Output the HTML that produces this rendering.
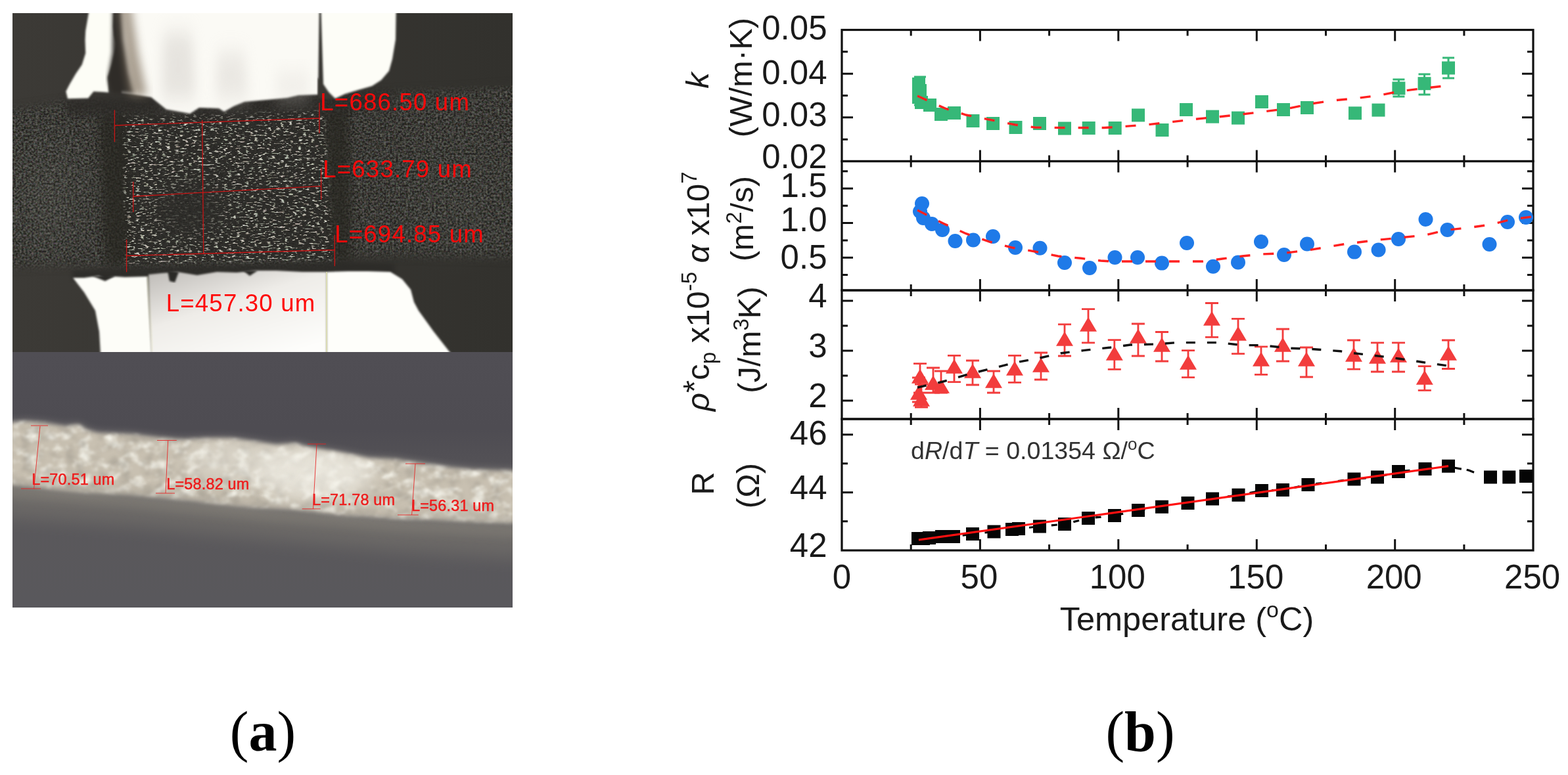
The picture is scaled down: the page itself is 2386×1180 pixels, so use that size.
<!DOCTYPE html>
<html><head><meta charset="utf-8"><title>Figure</title>
<style>
html,body{margin:0;padding:0;background:#fff;}
body{width:2386px;height:1180px;overflow:hidden;position:relative;}
svg{position:absolute;left:0;top:0;display:block;}
</style></head><body>
<svg width="2386" height="1180" viewBox="0 0 2386 1180">
<rect width="2386" height="1180" fill="#fff"/>
<defs>
<clipPath id="cTop"><rect x="19" y="20" width="761" height="516"/></clipPath>
<clipPath id="cBot"><rect x="19" y="536" width="761" height="389"/></clipPath>
<filter id="soft1" color-interpolation-filters="sRGB" x="-5%" y="-5%" width="110%" height="110%"><feGaussianBlur stdDeviation="1.4"/></filter>
<filter id="soft3" color-interpolation-filters="sRGB" x="-10%" y="-10%" width="120%" height="120%"><feGaussianBlur stdDeviation="3"/></filter>
<filter id="soft6" color-interpolation-filters="sRGB" x="-20%" y="-20%" width="140%" height="140%"><feGaussianBlur stdDeviation="7"/></filter>
<filter id="softV" color-interpolation-filters="sRGB" x="-50%" y="-50%" width="200%" height="200%"><feGaussianBlur stdDeviation="9 16"/></filter>
<filter id="soft12" color-interpolation-filters="sRGB" x="-20%" y="-40%" width="140%" height="180%"><feGaussianBlur stdDeviation="14"/></filter>
<filter id="spkA" color-interpolation-filters="sRGB" x="0" y="0" width="1" height="1">
  <feTurbulence type="fractalNoise" baseFrequency="0.15 0.4" numOctaves="2" seed="7"/>
  <feColorMatrix type="matrix" values="1.1 0.15 0 0 0.1  1.1 0 0.15 0 0.1  1.1 0 0 0 0.12  0 0 0 10 -5.75"/>
  <feGaussianBlur stdDeviation="0.7 0.4"/>
</filter>
<filter id="grain" color-interpolation-filters="sRGB" x="0" y="0" width="1" height="1">
  <feTurbulence type="fractalNoise" baseFrequency="0.33" numOctaves="2" seed="11"/>
  <feColorMatrix type="matrix" values="1.1 0.25 0 0 -0.42  1.1 0 0.25 0 -0.42  1.1 0 0 0.25 -0.44  0 0 0 0 1"/>
  <feGaussianBlur stdDeviation="0.7"/>
</filter>
<filter id="spkC" color-interpolation-filters="sRGB" x="0" y="0" width="1" height="1">
  <feTurbulence type="fractalNoise" baseFrequency="0.25" numOctaves="2" seed="23"/>
  <feColorMatrix type="matrix" values="0 0 0 0 0.62  0 0 0 0 0.64  0 0 0 0 0.62  12 0 0 0 -8.0"/>
  <feGaussianBlur stdDeviation="0.8"/>
</filter>
<radialGradient id="glowL" cx="0.5" cy="0.5" r="0.5"><stop offset="0" stop-color="#55554f" stop-opacity="0.9"/><stop offset="1" stop-color="#55554f" stop-opacity="0"/></radialGradient>
<filter id="blot" color-interpolation-filters="sRGB" x="0" y="0" width="1" height="1">
  <feTurbulence type="fractalNoise" baseFrequency="0.05 0.07" numOctaves="3" seed="4"/>
  <feColorMatrix type="matrix" values="0 0 0 0 1  0 0 0 0 1  0 0 0 0 0.97  3.0 0 0 0 -1.4"/>
  <feGaussianBlur stdDeviation="1.5"/>
</filter>
<filter id="blotD" color-interpolation-filters="sRGB" x="0" y="0" width="1" height="1">
  <feTurbulence type="fractalNoise" baseFrequency="0.06 0.08" numOctaves="2" seed="9"/>
  <feColorMatrix type="matrix" values="0 0 0 0 0.58  0 0 0 0 0.56  0 0 0 0 0.52  3.2 0 0 0 -1.5"/>
  <feGaussianBlur stdDeviation="2"/>
</filter>
<linearGradient id="gapG" x1="0" y1="0" x2="1" y2="0">
  <stop offset="0" stop-color="#2e2b27"/><stop offset="0.35" stop-color="#4a4036"/><stop offset="0.7" stop-color="#c8bfae"/><stop offset="1" stop-color="#fbfaf4"/>
</linearGradient>
<linearGradient id="w5G" x1="0" y1="0" x2="0.6" y2="1">
  <stop offset="0" stop-color="#bdbab6"/><stop offset="0.45" stop-color="#eeece8"/><stop offset="1" stop-color="#fdfdfb"/>
</linearGradient>
<linearGradient id="botBg" x1="0" y1="0" x2="0" y2="1">
  <stop offset="0" stop-color="#55535a"/><stop offset="0.25" stop-color="#59575c"/><stop offset="0.55" stop-color="#6a6867"/><stop offset="0.75" stop-color="#605f62"/><stop offset="1" stop-color="#545358"/>
</linearGradient>
</defs>
<g clip-path="url(#cTop)"><defs><linearGradient id="topBg" x1="0" y1="0" x2="1" y2="0"><stop offset="0" stop-color="#3c3a36"/><stop offset="1" stop-color="#32312d"/></linearGradient></defs><rect x="19" y="20" width="761" height="516" fill="url(#topBg)"/><path d="M0 169 L19 168 L60 162 L100 156 L190 160 L300 160 L480 148 L600 142 L700 138 L780 132 L800 131 L800 392 L700 390 L600 388 L530 390 L500 402 L300 406 L200 406 L150 404 L100 403 L60 404 L19 405 L0 405 Z" fill="#363531" filter="url(#soft6)"/><ellipse cx="75" cy="300" rx="80" ry="120" fill="url(#glowL)" opacity="0.6"/><ellipse cx="700" cy="300" rx="110" ry="120" fill="url(#glowL)" opacity="0.2"/><mask id="bandM" maskUnits="userSpaceOnUse" x="0" y="0" width="800" height="560"><path d="M0 169 L19 168 L60 162 L100 156 L190 160 L300 160 L480 148 L600 142 L700 138 L780 132 L800 131 L800 392 L700 390 L600 388 L530 390 L500 402 L300 406 L200 406 L150 404 L100 403 L60 404 L19 405 L0 405 Z" fill="#fff" filter="url(#soft6)"/></mask><mask id="ctrM" maskUnits="userSpaceOnUse" x="0" y="0" width="800" height="560"><path d="M186 176 L492 166 L506 396 L192 402 Z" fill="#fff" filter="url(#soft3)"/><ellipse cx="290" cy="318" rx="55" ry="42" fill="#000" filter="url(#soft12)" opacity="0.8"/></mask><g mask="url(#bandM)"><rect x="19" y="130" width="761" height="320" filter="url(#grain)" opacity="0.42"/><rect x="19" y="130" width="761" height="320" filter="url(#spkC)" opacity="0.4"/></g><path d="M180 176 L492 166 L508 394 L190 402 Z" fill="#2a2926" filter="url(#soft3)" opacity="0.8"/><path d="M150 175 L190 172 L198 400 L160 405 Z M492 165 L530 160 L535 395 L505 398 Z" fill="#26251f" filter="url(#soft6)" opacity="0.7"/><g mask="url(#ctrM)"><rect x="186" y="166" width="322" height="236" filter="url(#spkA)" opacity="0.85"/></g><path d="M100 150 L480 140 L600 140 L600 165 L480 172 L300 180 L100 175 Z" fill="#2c2a27" filter="url(#soft6)" opacity="0.8"/><path d="M110 412 L300 404 L500 398 L600 402 L600 418 L500 418 L300 422 L110 428 Z" fill="#2a2926" filter="url(#soft3)" opacity="0.7"/><path d="M138.3 0 L173.6 0 L172.2 40 L173.6 54 L177.6 67.5 L170.8 97.3 L164 117.6 L165.4 140.7 L156 140 L142.4 139.3 L134.2 149.5 L103 150.2 L100.3 139.3 L105.8 128.5 L115.3 112.2 L124.7 98.6 L130.2 81 L129.5 60.7 L130.2 47 Z" fill="#fdfdf6" filter="url(#soft1)"/><path d="M176 0 L486 0 L484 144 L454 145 L437 149 L406 152 L372 155 L356 161.6 L341 170 L333 165 L303 164 L289 173 L253 166.6 L230 148 L200 143 L185 141 Z" fill="#fbfaf5" filter="url(#soft1)"/><path d="M172 0 L184 0 L188 60 L196 110 L204 142 L170 142 L164 120 L171 80 Z" fill="#2f2c28" filter="url(#soft3)"/><path d="M180 0 L198 0 L210 80 L224 146 L198 146 L190 90 Z" fill="#8a7c6a" filter="url(#soft6)" opacity="0.75"/><path d="M248 50 L292 50 L298 150 L246 150 Z" fill="#d2cec9" filter="url(#softV)" opacity="0.5"/><path d="M330 80 L372 80 L378 150 L328 150 Z" fill="#d6d2cd" filter="url(#softV)" opacity="0.45"/><path d="M420 110 L470 110 L470 150 L420 150 Z" fill="#dcd8d3" filter="url(#softV)" opacity="0.35"/><path d="M485.5 0 V132" stroke="#4a4b36" stroke-width="3.5" filter="url(#soft1)"/><path d="M484 118 L492 126 L504 140 L510 151 L484 150 Z" fill="#3a3833" filter="url(#soft1)"/><path d="M488 0 L603 0 L602 60 L597 90 L592 108 L580 122 L566 131 L545 137 L525 143 L510 150 L500 140 L492 128 Z" fill="#fdfdf7" filter="url(#soft1)"/><path d="M111 423 L128 423 L150 420 L160 424 L175 421 L190 422 L224 421 L232 556 L154 556 L151 505 L145 473 L128 445 Z" fill="#fdfdf8" filter="url(#soft1)"/><path d="M226 418 L245 416 L270 414 L300 419 L330 414 L360 415 L390 412 L420 412 L460 414 L497 414 L497 556 L230 556 Z" fill="url(#w5G)" filter="url(#soft1)"/><path d="M497 414 L530 413 L560 413 L594 414 L612 425 L625 441 L630 460 L637 473 L660 505 L700 556 L497 556 Z" fill="#fefefa" filter="url(#soft1)"/><path d="M497 414 V536" stroke="#dfe0b0" stroke-width="2" opacity="0.8"/><path d="M224 421 L232 536" stroke="#e8e6cc" stroke-width="3" opacity="0.5" filter="url(#soft1)"/><path d="M255 412 L258 428 L266 430 L272 414 Z M370 412 L380 420 L392 412 Z M140 420 L160 428 L175 420 Z" fill="#2a2926" filter="url(#soft1)"/><g stroke="#c81414" stroke-width="1.3" fill="none"><path d="M174.4 191 L486 180 M174.4 167.6 V216 M486 156.6 V202.8"/><path d="M202.7 299 L488.7 283.3 M202.7 276.8 V323 M488.7 256 V303.7"/><path d="M192.6 389.5 L509.3 380.5 M192.6 364.7 V414.3 M509.3 357.9 V405.2"/><path d="M307.7 183 L309.7 386"/></g><g font-family="'Liberation Sans', Arial, sans-serif" font-size="36.6" fill="#ff0a0a" letter-spacing="1.2"><text x="487.3" y="167.7">L=686.50 um</text><text x="491.2" y="270">L=633.79 um</text><text x="509.2" y="368.6">L=694.85 um</text><text x="252.7" y="474">L=457.30 um</text></g></g>
<g clip-path="url(#cBot)"><defs><linearGradient id="botBg2" gradientUnits="userSpaceOnUse" x1="0" y1="536" x2="0" y2="925"><stop offset="0" stop-color="#504e54"/><stop offset="0.3" stop-color="#4e4c52"/><stop offset="0.6" stop-color="#5a585b"/><stop offset="1" stop-color="#59585c"/></linearGradient></defs><rect x="19" y="536" width="761" height="389" fill="url(#botBg2)"/><path d="M0 735 L200 752 L400 772 L600 790 L800 800 L800 850 L600 838 L400 820 L200 800 L0 785 Z" fill="#6f6c69" filter="url(#soft12)" opacity="0.9"/><path d="M0 738 L200 755 L400 775 L600 792 L800 802 L800 818 L600 808 L400 792 L200 772 L0 756 Z" fill="#817d76" filter="url(#soft6)" opacity="0.8"/><path d="M0 645 L19 644 L40 642 L70 645 L100 650 L120 647 L130 655 L150 660 L200 662 L250 668 L280 670 L320 668 L350 668 L380 672 L420 678 L450 676 L470 682 L520 690 L560 698 L600 700 L640 706 L680 712 L720 716 L780 718 L800 719 L800 796 L780 795 L740 794 L700 792 L660 790 L630 789 L600 788 L560 785 L520 783 L480 778 L440 774 L400 772 L370 770 L330 766 L300 762 L260 758 L230 755 L200 752 L160 750 L120 748 L80 744 L50 740 L19 737 L0 736 Z" fill="#a8a59e" filter="url(#soft6)" opacity="0.8"/><path d="M0 645 L19 644 L40 642 L70 645 L100 650 L120 647 L130 655 L150 660 L200 662 L250 668 L280 670 L320 668 L350 668 L380 672 L420 678 L450 676 L470 682 L520 690 L560 698 L600 700 L640 706 L680 712 L720 716 L780 718 L800 719 L800 796 L780 795 L740 794 L700 792 L660 790 L630 789 L600 788 L560 785 L520 783 L480 778 L440 774 L400 772 L370 770 L330 766 L300 762 L260 758 L230 755 L200 752 L160 750 L120 748 L80 744 L50 740 L19 737 L0 736 Z" fill="#c8c0b1" filter="url(#soft3)"/><mask id="bandBM" maskUnits="userSpaceOnUse" x="0" y="530" width="800" height="400"><path d="M0 645 L19 644 L40 642 L70 645 L100 650 L120 647 L130 655 L150 660 L200 662 L250 668 L280 670 L320 668 L350 668 L380 672 L420 678 L450 676 L470 682 L520 690 L560 698 L600 700 L640 706 L680 712 L720 716 L780 718 L800 719 L800 796 L780 795 L740 794 L700 792 L660 790 L630 789 L600 788 L560 785 L520 783 L480 778 L440 774 L400 772 L370 770 L330 766 L300 762 L260 758 L230 755 L200 752 L160 750 L120 748 L80 744 L50 740 L19 737 L0 736 Z" fill="#fff" filter="url(#soft3)"/></mask><g mask="url(#bandBM)"><rect x="19" y="630" width="761" height="180" filter="url(#blot)" opacity="0.8"/><rect x="19" y="630" width="761" height="180" filter="url(#blotD)" opacity="0.45"/><ellipse cx="480" cy="720" rx="90" ry="40" fill="#f4f2ea" filter="url(#soft12)" opacity="0.7"/><ellipse cx="360" cy="700" rx="80" ry="30" fill="#e8e5dc" filter="url(#soft12)" opacity="0.5"/><path d="M0 730 L200 746 L400 766 L600 782 L800 790 L800 800 L0 745 Z" fill="#9d988e" filter="url(#soft6)" opacity="0.55"/></g><g stroke="#e82222" stroke-width="1" fill="none" opacity="0.85"><path d="M61 648.8 L51.6 744.5 M47 648 H73 M32 744 H62"/><path d="M255.7 670.5 L252 751 M239 670.5 H268.8 M237 751 H266"/><path d="M482 676 L476.5 774.8 M468 676 H496 M459.7 774.8 H487.6"/><path d="M632 706 L626.6 784 M617 706 H647 M605 784 H636.8"/></g><g font-family="'Liberation Sans', Arial, sans-serif" font-size="23.4" fill="#ee1c1c" stroke="#ee1c1c" stroke-width="0.5" letter-spacing="0.2"><text x="48.3" y="738">L=70.51 um</text><text x="253.3" y="745">L=58.82 um</text><text x="475" y="768.8">L=71.78 um</text><text x="626" y="777.6">L=56.31 um</text></g></g>
<text x="399.9" y="1143" text-anchor="middle" font-family="'Liberation Serif', 'Times New Roman', serif" font-size="86" fill="#000">(<tspan font-weight="bold">a</tspan>)</text>
<filter id="plotBlur" color-interpolation-filters="sRGB" x="0" y="0" width="1" height="1"><feGaussianBlur stdDeviation="0.6"/></filter>
<g filter="url(#plotBlur)">
<rect x="1281.0" y="45.5" width="1052.0" height="200.0" fill="none" stroke="#111" stroke-width="3.2"/>
<rect x="1281.0" y="245.5" width="1052.0" height="196.5" fill="none" stroke="#111" stroke-width="3.2"/>
<rect x="1281.0" y="442.0" width="1052.0" height="196.0" fill="none" stroke="#111" stroke-width="3.2"/>
<rect x="1281.0" y="638.0" width="1052.0" height="200.0" fill="none" stroke="#111" stroke-width="3.2"/>
<path d="M1386.2 45.5v9M1386.2 245.5v-9M1491.4 45.5v17M1491.4 245.5v-17M1596.6 45.5v9M1596.6 245.5v-9M1701.8 45.5v17M1701.8 245.5v-17M1807.1 45.5v9M1807.1 245.5v-9M1912.3 45.5v17M1912.3 245.5v-17M2017.5 45.5v9M2017.5 245.5v-9M2122.7 45.5v17M2122.7 245.5v-17M2227.9 45.5v9M2227.9 245.5v-9M1386.2 245.5v9M1386.2 442.0v-9M1491.4 245.5v17M1491.4 442.0v-17M1596.6 245.5v9M1596.6 442.0v-9M1701.8 245.5v17M1701.8 442.0v-17M1807.1 245.5v9M1807.1 442.0v-9M1912.3 245.5v17M1912.3 442.0v-17M2017.5 245.5v9M2017.5 442.0v-9M2122.7 245.5v17M2122.7 442.0v-17M2227.9 245.5v9M2227.9 442.0v-9M1386.2 442.0v9M1386.2 638.0v-9M1491.4 442.0v17M1491.4 638.0v-17M1596.6 442.0v9M1596.6 638.0v-9M1701.8 442.0v17M1701.8 638.0v-17M1807.1 442.0v9M1807.1 638.0v-9M1912.3 442.0v17M1912.3 638.0v-17M2017.5 442.0v9M2017.5 638.0v-9M2122.7 442.0v17M2122.7 638.0v-17M2227.9 442.0v9M2227.9 638.0v-9M1386.2 638.0v9M1386.2 838.0v-9M1491.4 638.0v17M1491.4 838.0v-17M1596.6 638.0v9M1596.6 838.0v-9M1701.8 638.0v17M1701.8 838.0v-17M1807.1 638.0v9M1807.1 838.0v-9M1912.3 638.0v17M1912.3 838.0v-17M2017.5 638.0v9M2017.5 838.0v-9M2122.7 638.0v17M2122.7 838.0v-17M2227.9 638.0v9M2227.9 838.0v-9" stroke="#111" stroke-width="3.0" fill="none"/>
<path d="M1281.0 212.2h9M2333.0 212.2h-9M1281.0 178.8h17M2333.0 178.8h-17M1281.0 145.5h9M2333.0 145.5h-9M1281.0 112.2h17M2333.0 112.2h-17M1281.0 78.8h9M2333.0 78.8h-9M1281.0 418.4h9M2333.0 418.4h-9M1281.0 392.2h17M2333.0 392.2h-17M1281.0 365.9h9M2333.0 365.9h-9M1281.0 339.6h17M2333.0 339.6h-17M1281.0 313.3h9M2333.0 313.3h-9M1281.0 287.1h17M2333.0 287.1h-17M1281.0 260.8h9M2333.0 260.8h-9M1281.0 610.0h17M2333.0 610.0h-17M1281.0 572.0h9M2333.0 572.0h-9M1281.0 534.0h17M2333.0 534.0h-17M1281.0 496.0h9M2333.0 496.0h-9M1281.0 458.0h17M2333.0 458.0h-17M1281.0 793.7h9M2333.0 793.7h-9M1281.0 749.7h17M2333.0 749.7h-17M1281.0 705.7h9M2333.0 705.7h-9M1281.0 661.7h17M2333.0 661.7h-17" stroke="#111" stroke-width="3.0" fill="none"/>
<path d="M1400.0 117.0V160.0M1391.0 117.0h18M1391.0 160.0h18" stroke="#36b878" stroke-width="3" fill="none"/><path d="M2128.4 121.0V147.0M2119.4 121.0h18M2119.4 147.0h18" stroke="#36b878" stroke-width="3" fill="none"/><path d="M2167.5 113.0V144.0M2158.5 113.0h18M2158.5 144.0h18" stroke="#36b878" stroke-width="3" fill="none"/><path d="M2204.0 88.0V119.0M2195.0 88.0h18M2195.0 119.0h18" stroke="#36b878" stroke-width="3" fill="none"/><rect x="1388.0" y="118.0" width="20" height="20" fill="#36b878"/><rect x="1390.0" y="128.0" width="20" height="20" fill="#36b878"/><rect x="1388.0" y="138.0" width="20" height="20" fill="#36b878"/><rect x="1392.0" y="146.0" width="20" height="20" fill="#36b878"/><rect x="1405.0" y="150.0" width="20" height="20" fill="#36b878"/><rect x="1422.0" y="164.0" width="20" height="20" fill="#36b878"/><rect x="1442.0" y="162.0" width="20" height="20" fill="#36b878"/><rect x="1470.5" y="174.0" width="20" height="20" fill="#36b878"/><rect x="1501.0" y="178.0" width="20" height="20" fill="#36b878"/><rect x="1535.5" y="184.0" width="20" height="20" fill="#36b878"/><rect x="1572.0" y="178.0" width="20" height="20" fill="#36b878"/><rect x="1610.0" y="185.5" width="20" height="20" fill="#36b878"/><rect x="1646.7" y="185.0" width="20" height="20" fill="#36b878"/><rect x="1686.7" y="185.0" width="20" height="20" fill="#36b878"/><rect x="1722.0" y="165.4" width="20" height="20" fill="#36b878"/><rect x="1758.5" y="188.0" width="20" height="20" fill="#36b878"/><rect x="1795.0" y="157.0" width="20" height="20" fill="#36b878"/><rect x="1835.0" y="167.6" width="20" height="20" fill="#36b878"/><rect x="1874.0" y="169.6" width="20" height="20" fill="#36b878"/><rect x="1910.0" y="145.0" width="20" height="20" fill="#36b878"/><rect x="1943.0" y="157.0" width="20" height="20" fill="#36b878"/><rect x="1979.0" y="154.0" width="20" height="20" fill="#36b878"/><rect x="2052.0" y="162.3" width="20" height="20" fill="#36b878"/><rect x="2087.5" y="157.6" width="20" height="20" fill="#36b878"/><rect x="2118.4" y="124.4" width="20" height="20" fill="#36b878"/><rect x="2157.5" y="117.2" width="20" height="20" fill="#36b878"/><rect x="2194.0" y="93.5" width="20" height="20" fill="#36b878"/>
<path d="M1396.0 146.0 L1420.0 157.0 L1440.0 165.7 L1470.0 175.0 L1510.0 183.0 L1545.0 190.0 L1575.0 194.0 L1615.0 194.5 L1680.0 194.5 L1700.0 193.4 L1750.0 189.4 L1785.0 185.4 L1818.0 181.4 L1855.0 177.8 L1890.0 174.0 L1922.0 170.0 L1960.0 165.3 L1995.0 158.0 L2026.0 153.3 L2062.0 149.8 L2100.0 145.0 L2130.0 139.0 L2167.0 134.4 L2209.0 129.6" fill="none" stroke="#ff2020" stroke-width="3.4" stroke-dasharray="16 20"/>
<circle cx="1403.0" cy="310.0" r="11" fill="#1f7ae8"/><circle cx="1400.0" cy="322.0" r="11" fill="#1f7ae8"/><circle cx="1405.0" cy="332.0" r="11" fill="#1f7ae8"/><circle cx="1418.0" cy="341.0" r="11" fill="#1f7ae8"/><circle cx="1434.0" cy="350.0" r="11" fill="#1f7ae8"/><circle cx="1453.5" cy="367.0" r="11" fill="#1f7ae8"/><circle cx="1481.0" cy="365.5" r="11" fill="#1f7ae8"/><circle cx="1511.0" cy="360.0" r="11" fill="#1f7ae8"/><circle cx="1545.0" cy="377.0" r="11" fill="#1f7ae8"/><circle cx="1582.5" cy="377.8" r="11" fill="#1f7ae8"/><circle cx="1620.0" cy="400.0" r="11" fill="#1f7ae8"/><circle cx="1658.0" cy="408.0" r="11" fill="#1f7ae8"/><circle cx="1696.5" cy="392.0" r="11" fill="#1f7ae8"/><circle cx="1731.0" cy="392.0" r="11" fill="#1f7ae8"/><circle cx="1768.0" cy="400.6" r="11" fill="#1f7ae8"/><circle cx="1806.0" cy="370.0" r="11" fill="#1f7ae8"/><circle cx="1846.0" cy="405.8" r="11" fill="#1f7ae8"/><circle cx="1884.0" cy="399.5" r="11" fill="#1f7ae8"/><circle cx="1919.0" cy="368.0" r="11" fill="#1f7ae8"/><circle cx="1954.0" cy="388.0" r="11" fill="#1f7ae8"/><circle cx="1989.0" cy="371.5" r="11" fill="#1f7ae8"/><circle cx="2061.0" cy="383.6" r="11" fill="#1f7ae8"/><circle cx="2097.6" cy="380.5" r="11" fill="#1f7ae8"/><circle cx="2128.0" cy="364.0" r="11" fill="#1f7ae8"/><circle cx="2169.5" cy="334.0" r="11" fill="#1f7ae8"/><circle cx="2202.5" cy="350.0" r="11" fill="#1f7ae8"/><circle cx="2266.5" cy="372.0" r="11" fill="#1f7ae8"/><circle cx="2294.0" cy="338.0" r="11" fill="#1f7ae8"/><circle cx="2322.0" cy="331.0" r="11" fill="#1f7ae8"/>
<path d="M1396.0 320.0 L1437.0 341.0 L1470.0 355.7 L1505.0 367.8 L1540.0 377.0 L1575.0 383.0 L1610.0 390.0 L1645.0 393.3 L1675.0 397.0 L1690.0 398.0 L1830.0 398.0 L1860.0 394.0 L1890.0 390.0 L1920.0 387.0 L1950.0 385.8 L1990.0 381.0 L2050.0 371.0 L2100.0 365.0 L2130.0 362.0 L2170.0 357.7 L2200.0 350.4 L2240.0 346.0 L2270.0 341.6 L2300.0 334.0 L2331.0 330.0" fill="none" stroke="#ff2020" stroke-width="3.4" stroke-dasharray="16 20"/>
<path d="M1400.0 553.6V598.0M1390.0 553.6h20M1390.0 598.0h20" stroke="#f23c3c" stroke-width="2.8" fill="none"/><path d="M1400.0 561.8L1413.0 583.8H1387.0Z" fill="#f23c3c"/><path d="M1398.0 575.0V612.0M1388.0 575.0h20M1388.0 612.0h20" stroke="#f23c3c" stroke-width="2.8" fill="none"/><path d="M1398.0 586.8L1411.0 608.8H1385.0Z" fill="#f23c3c"/><path d="M1402.0 585.0V620.0M1392.0 585.0h20M1392.0 620.0h20" stroke="#f23c3c" stroke-width="2.8" fill="none"/><path d="M1402.0 596.8L1415.0 618.8H1389.0Z" fill="#f23c3c"/><path d="M1420.0 560.0V598.0M1410.0 560.0h20M1410.0 598.0h20" stroke="#f23c3c" stroke-width="2.8" fill="none"/><path d="M1420.0 571.8L1433.0 593.8H1407.0Z" fill="#f23c3c"/><path d="M1432.0 565.0V598.0M1422.0 565.0h20M1422.0 598.0h20" stroke="#f23c3c" stroke-width="2.8" fill="none"/><path d="M1432.0 576.8L1445.0 598.8H1419.0Z" fill="#f23c3c"/><path d="M1452.0 541.3V581.7M1442.0 541.3h20M1442.0 581.7h20" stroke="#f23c3c" stroke-width="2.8" fill="none"/><path d="M1452.0 546.8L1465.0 568.8H1439.0Z" fill="#f23c3c"/><path d="M1480.0 549.0V586.0M1470.0 549.0h20M1470.0 586.0h20" stroke="#f23c3c" stroke-width="2.8" fill="none"/><path d="M1480.0 553.8L1493.0 575.8H1467.0Z" fill="#f23c3c"/><path d="M1512.0 565.0V598.0M1502.0 565.0h20M1502.0 598.0h20" stroke="#f23c3c" stroke-width="2.8" fill="none"/><path d="M1512.0 568.8L1525.0 590.8H1499.0Z" fill="#f23c3c"/><path d="M1544.0 541.3V582.4M1534.0 541.3h20M1534.0 582.4h20" stroke="#f23c3c" stroke-width="2.8" fill="none"/><path d="M1544.0 549.8L1557.0 571.8H1531.0Z" fill="#f23c3c"/><path d="M1584.0 537.0V578.0M1574.0 537.0h20M1574.0 578.0h20" stroke="#f23c3c" stroke-width="2.8" fill="none"/><path d="M1584.0 544.8L1597.0 566.8H1571.0Z" fill="#f23c3c"/><path d="M1620.0 493.8V542.0M1610.0 493.8h20M1610.0 542.0h20" stroke="#f23c3c" stroke-width="2.8" fill="none"/><path d="M1620.0 504.8L1633.0 526.8H1607.0Z" fill="#f23c3c"/><path d="M1656.0 470.7V521.9M1646.0 470.7h20M1646.0 521.9h20" stroke="#f23c3c" stroke-width="2.8" fill="none"/><path d="M1656.0 482.8L1669.0 504.8H1643.0Z" fill="#f23c3c"/><path d="M1695.8 517.7V562.4M1685.8 517.7h20M1685.8 562.4h20" stroke="#f23c3c" stroke-width="2.8" fill="none"/><path d="M1695.8 526.8L1708.8 548.8H1682.8Z" fill="#f23c3c"/><path d="M1731.9 493.0V542.0M1721.9 493.0h20M1721.9 542.0h20" stroke="#f23c3c" stroke-width="2.8" fill="none"/><path d="M1731.9 500.8L1744.9 522.8H1718.9Z" fill="#f23c3c"/><path d="M1768.0 505.5V550.0M1758.0 505.5h20M1758.0 550.0h20" stroke="#f23c3c" stroke-width="2.8" fill="none"/><path d="M1768.0 513.8L1781.0 535.8H1755.0Z" fill="#f23c3c"/><path d="M1808.0 533.6V574.6M1798.0 533.6h20M1798.0 574.6h20" stroke="#f23c3c" stroke-width="2.8" fill="none"/><path d="M1808.0 540.8L1821.0 562.8H1795.0Z" fill="#f23c3c"/><path d="M1844.0 461.5V513.4M1834.0 461.5h20M1834.0 513.4h20" stroke="#f23c3c" stroke-width="2.8" fill="none"/><path d="M1844.0 473.8L1857.0 495.8H1831.0Z" fill="#f23c3c"/><path d="M1884.0 485.3V538.6M1874.0 485.3h20M1874.0 538.6h20" stroke="#f23c3c" stroke-width="2.8" fill="none"/><path d="M1884.0 496.8L1897.0 518.8H1871.0Z" fill="#f23c3c"/><path d="M1919.0 527.8V570.3M1909.0 527.8h20M1909.0 570.3h20" stroke="#f23c3c" stroke-width="2.8" fill="none"/><path d="M1919.0 535.8L1932.0 557.8H1906.0Z" fill="#f23c3c"/><path d="M1952.0 501.0V550.0M1942.0 501.0h20M1942.0 550.0h20" stroke="#f23c3c" stroke-width="2.8" fill="none"/><path d="M1952.0 513.8L1965.0 535.8H1939.0Z" fill="#f23c3c"/><path d="M1988.0 529.0V574.0M1978.0 529.0h20M1978.0 574.0h20" stroke="#f23c3c" stroke-width="2.8" fill="none"/><path d="M1988.0 535.8L2001.0 557.8H1975.0Z" fill="#f23c3c"/><path d="M2060.0 518.0V562.2M2050.0 518.0h20M2050.0 562.2h20" stroke="#f23c3c" stroke-width="2.8" fill="none"/><path d="M2060.0 528.8L2073.0 550.8H2047.0Z" fill="#f23c3c"/><path d="M2096.0 521.8V566.0M2086.0 521.8h20M2086.0 566.0h20" stroke="#f23c3c" stroke-width="2.8" fill="none"/><path d="M2096.0 531.8L2109.0 553.8H2083.0Z" fill="#f23c3c"/><path d="M2128.0 521.8V566.0M2118.0 521.8h20M2118.0 566.0h20" stroke="#f23c3c" stroke-width="2.8" fill="none"/><path d="M2128.0 529.8L2141.0 551.8H2115.0Z" fill="#f23c3c"/><path d="M2167.8 557.7V594.3M2157.8 557.7h20M2157.8 594.3h20" stroke="#f23c3c" stroke-width="2.8" fill="none"/><path d="M2167.8 563.8L2180.8 585.8H2154.8Z" fill="#f23c3c"/><path d="M2204.0 518.0V561.5M2194.0 518.0h20M2194.0 561.5h20" stroke="#f23c3c" stroke-width="2.8" fill="none"/><path d="M2204.0 526.8L2217.0 548.8H2191.0Z" fill="#f23c3c"/>
<path d="M1396.0 590.0 L1435.0 581.0 L1475.0 569.4 L1510.0 560.8 L1545.0 552.0 L1580.0 545.6 L1615.0 537.7 L1650.0 533.4 L1690.0 529.0 L1720.0 525.0 L1760.0 524.0 L1790.0 521.6 L1855.0 521.6 L1890.0 525.6 L1920.0 525.6 L1960.0 530.0 L2000.0 531.7 L2040.0 534.8 L2060.0 537.8 L2100.0 542.4 L2130.0 546.2 L2165.0 551.5 L2210.0 558.0" fill="none" stroke="#111" stroke-width="3.4" stroke-dasharray="14 18"/>
<path d="M1397.0 820.0 L1405.0 820.0 L1414.0 819.0 L1433.0 817.0 L1451.0 817.0 L1480.0 813.0 L1512.5 809.5 L1540.0 806.0 L1550.0 805.0 L1582.0 801.5 L1620.0 798.0 L1656.0 789.0 L1696.0 785.0 L1732.0 777.0 L1768.0 771.7 L1807.5 766.0 L1845.0 759.5 L1884.5 753.7 L1920.0 747.0 L1952.0 746.0 L1990.5 738.0 L2060.5 729.5 L2096.0 726.5 L2128.0 718.0 L2168.5 714.0 L2204.0 709.7" fill="none" stroke="#050505" stroke-width="3.2" stroke-dasharray="9 25"/>
<rect x="1387.0" y="810.0" width="20" height="20" fill="#050505"/><rect x="1395.0" y="810.0" width="20" height="20" fill="#050505"/><rect x="1404.0" y="809.0" width="20" height="20" fill="#050505"/><rect x="1423.0" y="807.0" width="20" height="20" fill="#050505"/><rect x="1441.0" y="807.0" width="20" height="20" fill="#050505"/><rect x="1470.0" y="803.0" width="20" height="20" fill="#050505"/><rect x="1502.5" y="799.5" width="20" height="20" fill="#050505"/><rect x="1530.0" y="796.0" width="20" height="20" fill="#050505"/><rect x="1540.0" y="795.0" width="20" height="20" fill="#050505"/><rect x="1572.0" y="791.5" width="20" height="20" fill="#050505"/><rect x="1610.0" y="788.0" width="20" height="20" fill="#050505"/><rect x="1646.0" y="779.0" width="20" height="20" fill="#050505"/><rect x="1686.0" y="775.0" width="20" height="20" fill="#050505"/><rect x="1722.0" y="767.0" width="20" height="20" fill="#050505"/><rect x="1758.0" y="761.7" width="20" height="20" fill="#050505"/><rect x="1797.5" y="756.0" width="20" height="20" fill="#050505"/><rect x="1835.0" y="749.5" width="20" height="20" fill="#050505"/><rect x="1874.5" y="743.7" width="20" height="20" fill="#050505"/><rect x="1910.0" y="737.0" width="20" height="20" fill="#050505"/><rect x="1942.0" y="736.0" width="20" height="20" fill="#050505"/><rect x="1980.5" y="728.0" width="20" height="20" fill="#050505"/><rect x="2050.5" y="719.5" width="20" height="20" fill="#050505"/><rect x="2086.0" y="716.5" width="20" height="20" fill="#050505"/><rect x="2118.0" y="708.0" width="20" height="20" fill="#050505"/><rect x="2158.5" y="704.0" width="20" height="20" fill="#050505"/><rect x="2194.0" y="699.7" width="20" height="20" fill="#050505"/><rect x="2258.0" y="716.5" width="20" height="20" fill="#050505"/><rect x="2286.3" y="716.5" width="20" height="20" fill="#050505"/><rect x="2312.0" y="715.0" width="20" height="20" fill="#050505"/>
<path d="M1398 822 L2204 709.7" stroke="#ff1010" stroke-width="3.2" fill="none"/>
<path d="M2212.0 712.0 L2235.0 716.0 L2250.0 722.0" fill="none" stroke="#050505" stroke-width="3.2" stroke-dasharray="12 8"/>
<g font-family="'Liberation Sans', Arial, sans-serif" font-size="49" fill="#1a1a1a"><text x="1258.5" y="60.2" text-anchor="end" font-size="51">0.05</text><text x="1258.5" y="127.9" text-anchor="end" font-size="51">0.04</text><text x="1258.5" y="191.8" text-anchor="end" font-size="51">0.03</text><text x="1258.5" y="255.8" text-anchor="end" font-size="51">0.02</text><text x="1258.5" y="300.3" text-anchor="end" font-size="51">1.5</text><text x="1258.5" y="352.1" text-anchor="end" font-size="51">1.0</text><text x="1258.5" y="408.6" text-anchor="end" font-size="51">0.5</text><text x="1258.5" y="467.8" text-anchor="end" font-size="51">4</text><text x="1258.5" y="544.3" text-anchor="end" font-size="51">3</text><text x="1258.5" y="620.3" text-anchor="end" font-size="51">2</text><text x="1258.5" y="676.8" text-anchor="end" font-size="51">46</text><text x="1258.5" y="760.3" text-anchor="end" font-size="51">44</text><text x="1258.5" y="848.3" text-anchor="end" font-size="51">42</text><text x="1281.0" y="895.9" text-anchor="middle" font-size="51">0</text><text x="1489.9" y="895.9" text-anchor="middle" font-size="51">50</text><text x="1700.3" y="895.9" text-anchor="middle" font-size="51">100</text><text x="1910.8" y="895.9" text-anchor="middle" font-size="51">150</text><text x="2121.2" y="895.9" text-anchor="middle" font-size="51">200</text><text x="2331.6" y="895.9" text-anchor="middle" font-size="51">250</text><text x="1806" y="959.8" text-anchor="middle" font-size="50.5">Temperature (<tspan font-size="34" dy="-20">o</tspan><tspan dy="20">C)</tspan></text><text transform="translate(1078,122.5) rotate(-90)" text-anchor="middle" font-style="italic">k</text><text transform="translate(1143.5,118) rotate(-90)" text-anchor="middle">(W/m·K)</text><text transform="translate(1145.5,333) rotate(-90)" text-anchor="middle">(m<tspan font-size="33" dy="-18">2</tspan><tspan dy="18">/s)</tspan></text><text transform="translate(1157,517.5) rotate(-90)" text-anchor="middle">(J/m<tspan font-size="33" dy="-18">3</tspan><tspan dy="18">K)</tspan></text><text transform="translate(1079,626) rotate(-90)"><tspan font-style="italic">ρ</tspan><tspan dy="-6">*</tspan><tspan dy="6">c</tspan><tspan font-size="33" dy="10">p</tspan><tspan dy="-10"> x10</tspan><tspan font-size="33" dy="-19">-5</tspan><tspan dy="19"> </tspan><tspan font-style="italic">α</tspan><tspan> x10</tspan><tspan font-size="33" dy="-19">7</tspan></text><text transform="translate(1086,736) rotate(-90)" text-anchor="middle">R</text><text transform="translate(1154.5,739.5) rotate(-90)" text-anchor="middle">(Ω)</text></g><text x="1386" y="699.3" font-family="'Liberation Sans', Arial, sans-serif" font-size="37.6" fill="#333">d<tspan font-style="italic">R</tspan>/d<tspan font-style="italic">T</tspan> = 0.01354 Ω/<tspan font-size="26" dy="-14">o</tspan><tspan dy="14">C</tspan></text>
</g>
<text x="1735" y="1143.4" text-anchor="middle" font-family="'Liberation Serif', 'Times New Roman', serif" font-size="86" fill="#000">(<tspan font-weight="bold">b</tspan>)</text>
</svg>
</body></html>
